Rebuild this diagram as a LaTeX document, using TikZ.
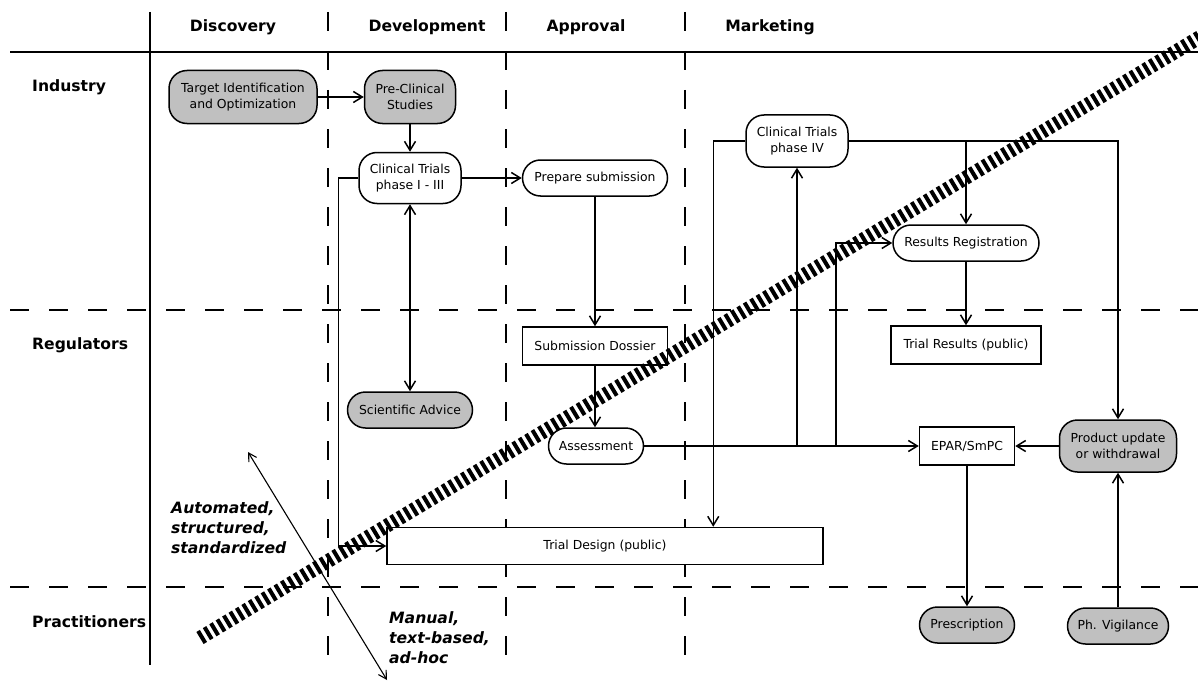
\documentclass[tikz,border=0pt]{standalone}
\usepackage{fontspec}
\setmainfont{DejaVu Sans}
\usetikzlibrary{arrows.meta}
\definecolor{boxgray}{RGB}{192,192,192}
\tikzset{
  lbl/.style={font={\fontsize{12.4}{15.5}\selectfont}, align=center, inner sep=0pt},
  sz/.style 2 args={minimum width=#1pt, minimum height=#2pt},
  act/.style={lbl, draw, line width=1.5pt, rounded corners=18pt, fill=white},
  actgray/.style={act, fill=boxgray},
  doc/.style={lbl, draw, line width=1.5pt, fill=white},
  head/.style={font={\fontsize{15.6}{18}\selectfont\bfseries}, inner sep=0pt},
  note/.style={font={\fontsize{15.6}{20}\selectfont\bfseries\itshape}, align=left, inner sep=0pt, anchor=west},
  barb/.tip={Straight Barb[length=9pt,width=11pt]},
  flow/.style={line width=1.5pt, -barb},
  both/.style={line width=1.5pt, barb-barb},
  lane/.style={line width=1.6pt},
  dlane/.style={lane, dash pattern=on 19pt off 20pt},
  hatch/.style={line width=14pt, dash pattern=on 4pt off 3.5pt},
  axis/.style={line width=1.1pt, {Straight Barb[length=8pt,width=9pt]}-{Straight Barb[length=8pt,width=9pt]}},
}
\begin{document}
\begin{tikzpicture}[x=1pt,y=-1pt]
\useasboundingbox[fill=white] (0,0) rectangle (1198,682);
% lanes
\draw[lane] (10,52) -- (1198,52);
\draw[lane] (150,12) -- (150,665);
\foreach \x in {328,506,685}
  \draw[dlane] (\x,12) -- (\x,665);
\foreach \y in {310,587}
  \draw[dlane] (10,\y) -- (1198,\y);
\node[head] (hdisc) at (233,27) {Discovery};
\node[head] (hdev) at (427,27) {Development};
\node[head] (happr) at (586,27) {Approval};
\node[head] (hmark) at (770,27) {Marketing};
\node[head, anchor=west] (hind) at (32,87) {Industry};
\node[head, anchor=west] (hreg) at (32,345) {Regulators};
\node[head, anchor=west] (hprac) at (32,622) {Practitioners};
% steps
\node[actgray, sz={148}{53}] (target) at (243,97) {Target Identification\\and Optimization};
\node[actgray, sz={91}{53}] (precl) at (410,97) {Pre-Clinical\\Studies};
\node[act, sz={102}{51}] (ct13) at (410,178) {Clinical Trials\\phase I - III};
\node[act, sz={145}{36}] (prep) at (595,178) {Prepare submission};
\node[act, sz={102}{52}] (ct4) at (797,141) {Clinical Trials\\phase IV};
\node[act, sz={146}{36}] (resreg) at (966,243) {Results Registration};
\node[doc, sz={145}{38}] (dossier) at (595,346) {Submission Dossier};
\node[doc, sz={150}{38}] (trres) at (966,345) {Trial Results (public)};
\node[actgray, sz={125}{36}] (sciadv) at (410,410) {Scientific Advice};
\node[act, sz={95}{36}] (assess) at (596,446) {Assessment};
\node[doc, sz={95}{38}] (epar) at (967,446) {EPAR/SmPC};
\node[actgray, sz={117}{52}] (product) at (1118,446) {Product update\\or withdrawal};
\node[doc, sz={436}{37}] (trdes) at (605,546) {Trial Design (public)};
\node[actgray, sz={95}{36}] (presc) at (967,625) {Prescription};
\node[actgray, sz={101}{36}] (phvig) at (1118,626) {Ph. Vigilance};
% flows
\draw[flow] (target) -- (precl);
\draw[flow] (precl) -- (ct13);
\draw[flow] (ct13) -- (prep);
\draw[both] (ct13) -- (sciadv);
\draw[flow] (ct13.west) -- ++(-20,0) |- (trdes.west);
\draw[flow] (prep.south) -- (prep.south |- dossier.north);
\draw[flow] (dossier.south) -- (dossier.south |- assess.north);
\draw[flow] (assess) -- (epar);
\draw[flow] (ct4 |- assess) -- (ct4);
\coordinate (fork) at (836,446);
\draw[flow] (fork) |- (resreg);
\draw[flow] (ct4.west) -| ([xshift=-32pt]ct4.west |- trdes.north);
\draw[flow] (ct4.east) -| (resreg);
\draw[flow] (ct4.east) -| (product);
\draw[flow] (resreg) -- (trres);
\draw[flow] (product) -- (epar);
\draw[flow] (epar) -- (presc);
\draw[flow] (phvig) -- (product);
% automation scale
\node[note] (auto) at (171,528) {Automated,\\structured,\\standardized};
\node[note] (manual) at (389,638) {Manual,\\text-based,\\ad-hoc};
\coordinate (top) at (248,452);
\coordinate (bot) at (387,680);
\draw[axis] (top) -- (bot);
\coordinate (hs) at (200,638);
\coordinate (he) at (1215,28);
\draw[hatch] (hs) -- (he);
\end{tikzpicture}
\end{document}
